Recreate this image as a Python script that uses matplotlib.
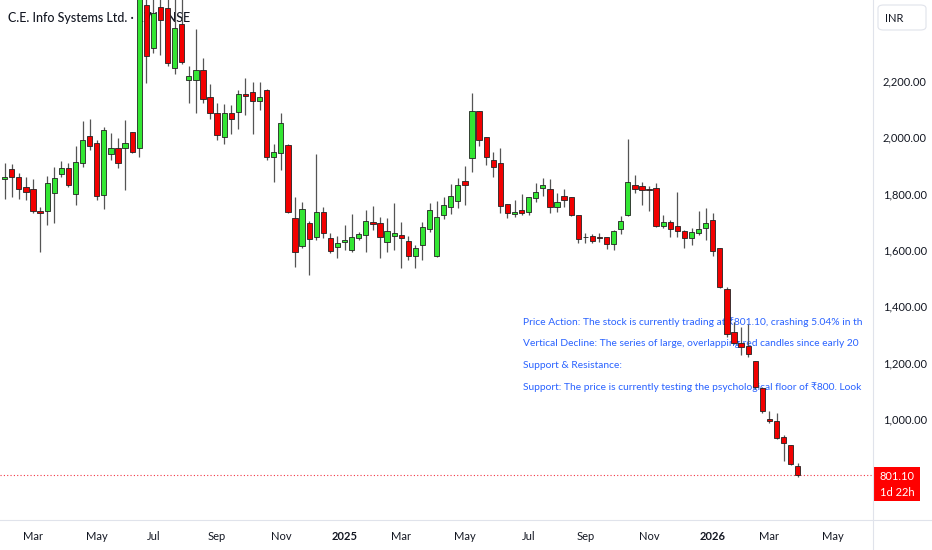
import matplotlib
matplotlib.use("Agg")
import matplotlib.pyplot as plt
import matplotlib.dates as mdates
from matplotlib.patches import Rectangle, FancyBboxPatch
from matplotlib.lines import Line2D
import numpy as np
import pandas as pd

# weekly candles, C.E. Info Systems (NSE)
first_week = "2024-02-05"
opens = [1851, 1887, 1859, 1825, 1815, 1739, 1739, 1804, 1869, 1892,
         1798, 1910, 2005, 1979, 1795, 1941, 1961, 1961, 2018, 1961,
         2470, 2316, 2462, 2458, 2245, 2403, 2204, 2204, 2239, 2145,
         2085, 2003, 2088, 2089, 2153, 2162, 2130, 2168, 1929, 1946,
         1973, 1712, 1614, 1695, 1645, 1734, 1643, 1610, 1630, 1600,
         1644, 1653, 1701, 1695, 1627, 1651, 1653, 1632, 1580, 1618,
         1674, 1580, 1724, 1751, 1774, 1846, 1928, 2094, 2000, 1920,
         1908, 1762, 1727, 1742, 1734, 1786, 1819, 1816, 1751, 1792,
         1789, 1726, 1647, 1649, 1645, 1645, 1620, 1674, 1724, 1831,
         1829, 1816, 1822, 1685, 1698, 1686, 1668, 1641, 1659, 1677,
         1706, 1606, 1460, 1308, 1268, 1260, 1207, 1109, 999, 994,
         937, 907, 834]
highs = [1908, 1905, 1872, 1858, 1851, 1754, 1864, 1896, 1917, 1908,
         1969, 2059, 2064, 1991, 2038, 2014, 1997, 2062, 2020, 2600,
         2560, 2500, 2500, 2495, 2490, 2495, 2254, 2384, 2281, 2190,
         2121, 2119, 2115, 2168, 2210, 2198, 2198, 2171, 1977, 2085,
         1977, 1789, 1772, 1704, 1941, 1751, 1662, 1650, 1689, 1728,
         1665, 1742, 1758, 1719, 1715, 1768, 1701, 1651, 1618, 1701,
         1768, 1775, 1787, 1833, 1857, 1899, 2159, 2094, 2000, 1949,
         1964, 1762, 1778, 1798, 1789, 1837, 1857, 1851, 1801, 1816,
         1789, 1726, 1661, 1657, 1659, 1645, 1671, 1721, 1993, 1866,
         1842, 1827, 1839, 1724, 1706, 1807, 1671, 1677, 1738, 1750,
         1732, 1606, 1467, 1345, 1328, 1337, 1207, 1112, 1029, 1022,
         943, 907, 842]
lows = [1780, 1789, 1780, 1778, 1730, 1594, 1689, 1697, 1861, 1825,
        1759, 1896, 1955, 1778, 1744, 1920, 1890, 1813, 1943, 1932,
        2194, 2299, 2293, 2254, 2225, 2261, 2121, 2085, 2121, 2064,
        1991, 1977, 2012, 2029, 2080, 2011, 2097, 1920, 1843, 1884,
        1730, 1541, 1606, 1511, 1636, 1642, 1588, 1571, 1600, 1594,
        1636, 1592, 1671, 1571, 1594, 1600, 1535, 1565, 1535, 1565,
        1665, 1576, 1709, 1727, 1748, 1760, 1876, 1970, 1902, 1858,
        1733, 1713, 1716, 1724, 1724, 1772, 1792, 1730, 1736, 1754,
        1721, 1626, 1626, 1626, 1629, 1602, 1600, 1657, 1721, 1801,
        1760, 1738, 1683, 1677, 1647, 1647, 1606, 1618, 1653, 1635,
        1578, 1464, 1292, 1266, 1227, 1221, 1105, 1020, 987, 927,
        852, 836, 795]
closes = [1861, 1858, 1815, 1807, 1739, 1733, 1837, 1855, 1892, 1831,
          1911, 1990, 1969, 1792, 2026, 1963, 1908, 1981, 1949, 2540,
          2289, 2441, 2417, 2263, 2387, 2269, 2218, 2239, 2135, 2085,
          2008, 2088, 2064, 2153, 2147, 2129, 2142, 1929, 1949, 2052,
          1734, 1592, 1744, 1638, 1734, 1659, 1598, 1624, 1634, 1645,
          1657, 1704, 1694, 1645, 1669, 1659, 1642, 1580, 1606, 1683,
          1742, 1716, 1759, 1791, 1830, 1831, 2094, 1991, 1929, 1896,
          1756, 1730, 1735, 1730, 1787, 1805, 1831, 1754, 1769, 1778,
          1726, 1640, 1645, 1633, 1641, 1621, 1667, 1703, 1840, 1816,
          1813, 1813, 1686, 1700, 1673, 1667, 1641, 1663, 1676, 1697,
          1597, 1467, 1300, 1271, 1257, 1231, 1112, 1029, 994, 931,
          913, 840, 801.10]

price_ticks = [1000, 1200, 1400, 1600, 1800, 2000, 2200]
last_price = 801.10
# note lines as far as they are visible before the price scale
notes = [
    "Price Action: The stock is currently trading at \u20b9801.10, crashing 5.04% in th",
    "Vertical Decline: The series of large, overlapping red candles since early 20",
    "Support & Resistance:",
    "Support: The price is currently testing the psychological floor of \u20b9800. Look",
]

W, H = 932, 550
plt.rcParams['font.family'] = ['Lato', 'DejaVu Sans']
fig = plt.figure(figsize=(W / 100, H / 100), dpi=100)
ax = fig.add_axes([0, 30 / H, 873 / W, 520 / H])

dates = pd.date_range(first_week, periods=len(opens), freq="W-MON")
x = mdates.date2num(dates)
o = np.array(opens, float)
h = np.array(highs, float)
l = np.array(lows, float)
c = np.array(closes, float)
up = c >= o
cols = np.where(up, "#33e633", "#f20000")

ax.vlines(x, l, h, color="#555555", lw=0.9, zorder=3)
body_lo = np.minimum(o, c)
body_h = np.maximum(np.abs(c - o), 2.5)
ax.bar(x, body_h, bottom=body_lo, width=5.2, color=cols,
       edgecolor="#222222", linewidth=0.6, zorder=4)

ax.axhline(last_price, color="#f23645", lw=0.8, ls=(0, (1, 2)), zorder=2)

ax.set_xlim(x[0] - 4.65, x[0] + 858.4)
ax.set_ylim(641, 2488)

# month ticks on the first bar of odd months
wk = pd.date_range("2024-03-01", "2026-05-31", freq="WOM-1MON")
wk = wk[wk.month % 2 == 1]
ax.set_xticks(mdates.date2num(wk))
labs = [str(d.year) if d.month == 1 else d.strftime("%b") for d in wk]
ax.set_xticklabels(labs)
for t, d in zip(ax.get_xticklabels(), wk):
    if d.month == 1:
        t.set_fontweight("bold")
ax.tick_params(axis="x", length=0, pad=8, labelsize=8, colors="#131722")

ax.yaxis.tick_right()
ax.set_yticks(price_ticks)
ax.set_yticklabels([f"{p:,.2f}" for p in price_ticks])
ax.tick_params(axis="y", length=0, pad=7, labelsize=8, colors="#131722")

for s in ax.spines.values():
    s.set_visible(False)

ax.text(8 / 873, 1 - 18 / 520, "C.E. Info Systems Ltd. \u00b7 1W \u00b7 NSE",
        transform=ax.transAxes, fontsize=9, fontweight="medium",
        color="#131722", va="center", ha="left", zorder=1)

for i, line in enumerate(notes):
    ax.text(523 / 873, 1 - (322 + 21.7 * i) / 520, line, transform=ax.transAxes,
            fontsize=7.4, color="#2962ff", va="center", ha="left",
            zorder=1, clip_on=True)

# separators of the price and time scales
fig.add_artist(Line2D([873 / W, 873 / W], [0, 1], color="#e0e3eb", lw=0.8))
fig.add_artist(Line2D([0, 1], [30 / H, 30 / H], color="#e0e3eb", lw=0.8))

# INR box
fig.add_artist(FancyBboxPatch((878 / W, 1 - 30 / H), 48 / W, 25 / H,
                              boxstyle="round,pad=0,rounding_size=0.006",
                              fc="white", ec="#e0e3eb", lw=0.8))
fig.text(885 / W, 1 - 18 / H, "INR", fontsize=8, color="#131722",
         va="center", ha="left")

# last price label
fig.add_artist(Rectangle((873 / W, 1 - 501 / H), 47 / W, 34 / H,
                         fc="#ff0000", ec="none"))
fig.text(897 / W, 1 - 476 / H, f"{last_price:.2f}", fontsize=8,
         color="white", va="center", ha="center")
fig.text(897 / W, 1 - 492 / H, "1d 22h", fontsize=8,
         color="white", va="center", ha="center")

fig.savefig("out.png", dpi=100)
